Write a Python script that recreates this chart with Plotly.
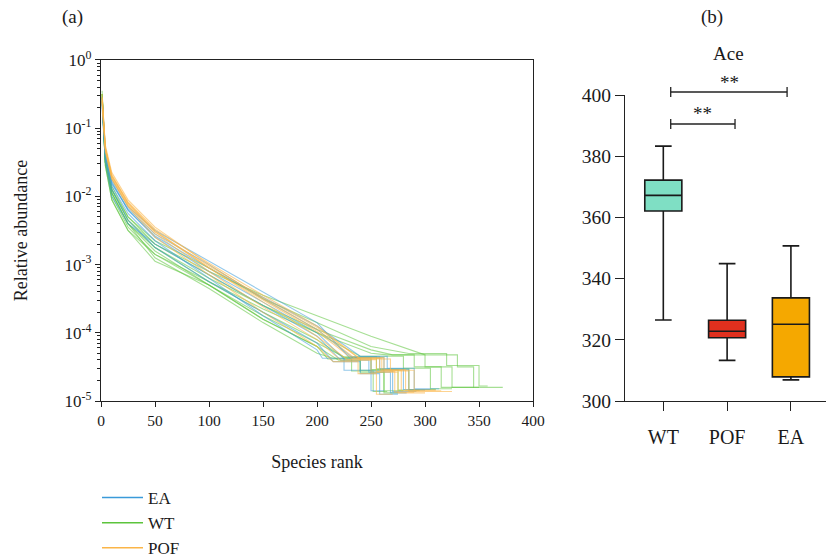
import plotly.graph_objects as go

# ---------------- data ----------------
# (a) rank-abundance curves: log10 relative abundance read at common ranks,
# followed by the tail step ranks (drop to 3/N, 2/N, 1/N levels) and the last rank.
RANKS = [1, 4, 10, 25, 50, 100, 150, 200, 250]

EA_body = [
    [-0.55, -1.30, -1.75, -2.15, -2.50, -2.95, -3.40, -3.85],
    [-0.60, -1.35, -1.80, -2.20, -2.60, -3.10, -3.55, -4.00],
    [-0.70, -1.45, -1.90, -2.35, -2.75, -3.25, -3.70, -4.15],
    [-0.62, -1.40, -1.85, -2.25, -2.65, -3.20, -3.75, -4.25],
    [-0.58, -1.35, -1.78, -2.20, -2.58, -3.05, -3.48, -3.90],
    [-0.65, -1.50, -2.00, -2.40, -2.70, -3.15, -3.60, -4.05],
    [-0.60, -1.38, -1.82, -2.18, -2.55, -3.00, -3.50, -3.95],
]
EA_tail = [[230, 262, 285, 300], [225, 250, 270, 292], [215, 240, 258, 275], [205, 225, 250, 262],
           [240, 265, 290, 313], [222, 248, 268, 283], [232, 258, 280, 305]]
EA_floor = [-4.84, -4.86, -4.90, -4.85, -4.82, -4.88, -4.83]

WT_body = [
    [-0.45, -1.50, -1.95, -2.40, -2.80, -3.30, -3.80, -4.20],
    [-0.50, -1.45, -1.90, -2.35, -2.75, -3.25, -3.70, -4.10],
    [-0.55, -1.50, -1.95, -2.40, -2.90, -3.35, -3.85, -4.30],
    [-0.60, -1.45, -1.90, -2.30, -2.70, -3.10, -3.45, -3.75, -4.05],
    [-0.55, -1.40, -1.85, -2.30, -2.65, -3.05, -3.50, -3.85, -4.20],
    [-0.50, -1.45, -1.90, -2.35, -2.70, -3.15, -3.60, -4.00, -4.30],
    [-0.60, -1.50, -2.00, -2.45, -2.85, -3.25, -3.65, -4.00],
    [-0.50, -1.55, -2.05, -2.50, -2.85, -3.30, -3.75, -4.15],
    [-0.55, -1.50, -1.95, -2.40, -2.75, -3.20, -3.60, -3.95, -4.25],
    [-0.50, -1.55, -2.05, -2.50, -2.95, -3.30, -3.80, -4.20],
]
WT_tail = [[210, 232, 252, 265], [225, 250, 275, 295], [215, 240, 262, 280], [300, 330, 345, 372],
           [285, 320, 350, 358], [265, 290, 315, 345], [240, 280, 305, 325], [225, 255, 285, 310],
           [270, 300, 325, 350], [220, 240, 262, 275]]
WT_floor = [-4.86, -4.84, -4.85, -4.80, -4.78, -4.80, -4.82, -4.83, -4.80, -4.88]

POF_body = [
    [-0.55, -1.25, -1.65, -2.05, -2.45, -3.00, -3.50, -3.95],
    [-0.60, -1.30, -1.70, -2.10, -2.50, -3.05, -3.55, -4.05],
    [-0.50, -1.28, -1.70, -2.08, -2.48, -2.98, -3.45, -3.90],
    [-0.60, -1.35, -1.75, -2.15, -2.60, -3.15, -3.70, -4.20],
    [-0.55, -1.30, -1.72, -2.12, -2.52, -3.02, -3.48, -3.92],
    [-0.58, -1.32, -1.74, -2.14, -2.55, -3.10, -3.62, -4.10],
    [-0.62, -1.30, -1.68, -2.10, -2.52, -3.05, -3.52, -3.98],
]
POF_tail = [[235, 260, 278, 295], [228, 255, 272, 290], [240, 268, 285, 325], [215, 238, 255, 270],
            [238, 262, 282, 310], [222, 250, 275, 300], [232, 258, 290, 315]]
POF_floor = [-4.85, -4.87, -4.86, -4.90, -4.84, -4.88, -4.85]

# (b) Ace box statistics
BOX_GROUPS = ["WT", "POF", "EA"]
BOX_LOW = [326.5, 313.3, 306.9]
BOX_Q1 = [362.1, 320.7, 307.9]
BOX_MED = [367.2, 322.8, 325.1]
BOX_Q3 = [372.2, 326.4, 333.7]
BOX_HIGH = [383.3, 344.9, 350.7]
BOX_COLORS = ["#7fdfc4", "#e0301e", "#f5a800"]

Y_TICKS_A = [0, -1, -2, -3, -4, -5]
X_TICKS_A = [0, 50, 100, 150, 200, 250, 300, 350, 400]
Y_TICKS_B = [300, 320, 340, 360, 380, 400]

FONT = "Liberation Serif"
INK = "#1a1a1a"

fig = go.Figure()


def curve(body, tail, floor):
    xs = RANKS[:len(body)]
    ys = list(body)
    r3, r2, r1, end = tail
    l1 = floor
    l2 = floor + 0.301
    l3 = floor + 0.477
    xs += [r3, r2, r2, r1, r1, end]
    ys += [l3, l3, l2, l2, l1, l1]
    return xs, [10 ** v for v in ys]


groups = {
    "EA": (EA_body, EA_tail, EA_floor, "rgba(58,154,217,0.55)", "#3a9ad9", 1),
    "WT": (WT_body, WT_tail, WT_floor, "rgba(92,196,60,0.55)", "#5cc43c", 2),
    "POF": (POF_body, POF_tail, POF_floor, "rgba(251,181,72,0.6)", "#fbb548", 3),
}
for name in ["WT", "EA", "POF"]:
    bodies, tails, floors, color, solid, rank = groups[name]
    for b, t, f in zip(bodies, tails, floors):
        xs, ys = curve(b, t, f)
        fig.add_trace(go.Scatter(
            x=xs, y=ys, mode="lines", name=name, legendgroup=name, showlegend=False,
            line=dict(color=color, width=1.1), xaxis="x", yaxis="y"))
    # legend key (solid colour, no data drawn)
    fig.add_trace(go.Scatter(
        x=[None], y=[None], mode="lines", name=name, legendgroup=name, showlegend=True,
        legendrank=rank, line=dict(color=solid, width=1.5), xaxis="x", yaxis="y"))

for g, lo, q1, me, q3, hi, c in zip(BOX_GROUPS, BOX_LOW, BOX_Q1, BOX_MED, BOX_Q3, BOX_HIGH, BOX_COLORS):
    fig.add_trace(go.Box(
        x=[g], lowerfence=[lo], q1=[q1], median=[me], q3=[q3], upperfence=[hi],
        fillcolor=c, line=dict(color=INK, width=1.6), whiskerwidth=0.45,
        showlegend=False, xaxis="x2", yaxis="y2", hoverinfo="skip"))

minor_vals = [m * 10 ** e for e in range(-5, 0) for m in range(2, 10)]

fig.update_layout(
    width=826, height=559,
    margin=dict(l=0, r=0, t=0, b=0, autoexpand=False),
    paper_bgcolor="white", plot_bgcolor="white",
    font=dict(family=FONT, size=15, color=INK),
    showlegend=True,
    legend=dict(x=97 / 826, y=1 - 480 / 559, xanchor="left", yanchor="top", itemwidth=41,
                font=dict(family=FONT, size=17), tracegroupgap=0,
                bgcolor="rgba(0,0,0,0)"),
    boxgap=0.17,
    xaxis=dict(domain=[0.1223, 0.6453], range=[0, 400], tickvals=X_TICKS_A, automargin=False,
               showline=True, linecolor="#222", linewidth=1.3, mirror=True,
               ticks="outside", ticklen=5, tickcolor="#222", showgrid=False, zeroline=False,
               tickfont=dict(size=15.5),
               title=dict(text="Species rank", font=dict(size=18), standoff=27)),
    yaxis=dict(domain=[0.2826, 0.8927], type="log", range=[-5, 0], automargin=False,
               tickvals=[10 ** v for v in Y_TICKS_A],
               ticktext=["10<sup>%d</sup>" % v for v in Y_TICKS_A],
               showline=True, linecolor="#222", linewidth=1.3, mirror=True,
               ticks="outside", ticklen=5, tickcolor="#222", showgrid=False, zeroline=False,
               minor=dict(tickvals=minor_vals, ticks="outside", ticklen=3, tickcolor="#222", showgrid=False),
               tickfont=dict(size=17),
               title=dict(text="Relative abundance", font=dict(size=18), standoff=32)),
    xaxis2=dict(domain=[0.7567, 1.0], range=[-0.6, 2.55], type="category", automargin=False,
                categoryorder="array", categoryarray=BOX_GROUPS,
                showline=True, linecolor="#222", linewidth=1.4,
                ticks="outside", ticklen=9, tickcolor="#222", showgrid=False, zeroline=False,
                ticklabelstandoff=9, tickfont=dict(size=20)),
    yaxis2=dict(domain=[0.2826, 0.830], range=[300, 400], tickvals=Y_TICKS_B, automargin=False,
                showline=True, linecolor="#222", linewidth=1.4, anchor="x2",
                ticks="outside", ticklen=9, tickcolor="#222", showgrid=False, zeroline=False,
                tickfont=dict(size=19.5)),
)

# significance brackets (x in category units, y in paper units)
brackets = [(0.116, 1.94, 0.8354, 1.045, 0.853), (0.116, 1.124, 0.7782, 0.62, 0.797)]
for x0, x1, yp, xt, yt in brackets:
    fig.add_shape(type="line", xref="x2", yref="paper", x0=x0, x1=x1, y0=yp, y1=yp,
                  line=dict(color="#222", width=1.3))
    for xe in (x0, x1):
        fig.add_shape(type="line", xref="x2", yref="paper", x0=xe, x1=xe, y0=yp - 0.009, y1=yp + 0.009,
                      line=dict(color="#222", width=1.3))
    fig.add_annotation(x=xt, y=yt, xref="x2", yref="paper", text="**", showarrow=False,
                       font=dict(size=19), xanchor="center", yanchor="middle")

for txt, px, py in [("(a)", 72, 17), ("(b)", 712, 17), ("Ace", 728, 54)]:
    fig.add_annotation(x=px / 826, y=1 - py / 559, xref="paper", yref="paper", text=txt,
                       showarrow=False, font=dict(size=19), xanchor="center", yanchor="middle")

fig.write_html("out.html", config={"displayModeBar": False},
               post_script="document.body.style.margin='0';document.body.style.padding='0';")
